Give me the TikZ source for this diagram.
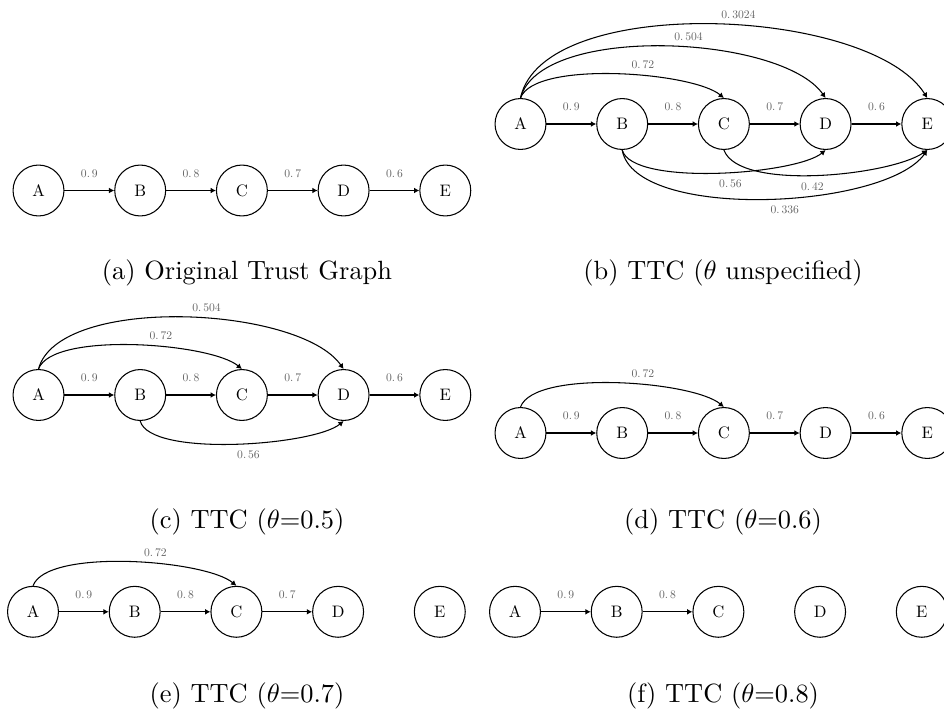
\documentclass[tikz,border=0pt]{standalone}
\usepackage{fontspec}
\usepackage{tikz}
\usetikzlibrary{arrows.meta}
\newfontfamily\tenrm{lmroman10-regular.otf}
\definecolor{cLabel}{RGB}{100,100,100}
\tikzset{
	vtx/.style   ={circle, draw=black, minimum size=19.3pt, inner sep=0pt, font=\tenrm\fontsize{6.3}{7}\selectfont},
	edge/.style  ={-{Latex[length=2pt,width=2.2pt]}},
	wlbl/.style  ={text=cLabel, inner sep=1pt, font=\tenrm\fontsize{4.4}{5}\selectfont},
	% sub-figure captions
	subcap/.style={font=\normalsize},
}

\begin{document}
\begin{tikzpicture}[x=0.379pt, y=0.379pt]
	\useasboundingbox (0,0) rectangle (944,-716);
	% (a) original graph
	\foreach \n [count=\i from 0] in {A,B,C,D,E} \node[vtx] (a\n) at (38.5+101.7*\i,-190.5) {\n};
	\foreach \s/\t/\w in {A/B/9,B/C/8,C/D/7,D/E/6} \draw[edge] (a\s) -- node[wlbl, above=3.8pt] {0.\,\w} (a\t);
	\node[subcap] (capa) at (247,-273) {(a) Original Trust Graph};
	% (b) theta unspecified
	\foreach \n [count=\i from 0] in {A,B,C,D,E} \node[vtx] (b\n) at (520.5+101.7*\i,-124) {\n};
	\foreach \s/\t/\w in {A/B/9,B/C/8,C/D/7,D/E/6} \draw[edge] (b\s) -- node[wlbl, above=3.8pt] {0.\,\w} (b\t);
	\draw[edge] (bA.north) to[out=70,in=140,looseness=0.51] node[wlbl, above=1.5pt, pos=0.6] {0.\,72} (bC.north);
	\draw[edge] (bA.north) to[out=75,in=125,looseness=0.65] node[wlbl, above=1.5pt, pos=0.56] {0.\,504} (bD.north);
	\draw[edge] (bA.north) to[out=78,in=122,looseness=0.68] node[wlbl, above=1.5pt, pos=0.55] {0.\,3024} (bE.north);
	\draw[edge] (bB.south) to[out=-75,in=-140,looseness=0.48] node[wlbl, below=1.5pt, pos=0.55] {0.\,56} (bD.south);
	\draw[edge] (bC.south) to[out=-70,in=-145,looseness=0.56] node[wlbl, below=1.5pt, pos=0.48] {0.\,42} (bE.south);
	\draw[edge] (bB.south) to[out=-80,in=-125,looseness=0.61] node[wlbl, below=1.5pt, pos=0.55] {0.\,336} (bE.south);
	\node[subcap] (capb) at (723,-273) {(b) TTC ($\theta$ unspecified)};
	% (c) theta=0.5
	\foreach \n [count=\i from 0] in {A,B,C,D,E} \node[vtx] (c\n) at (38.5+101.7*\i,-395) {\n};
	\foreach \s/\t/\w in {A/B/9,B/C/8,C/D/7,D/E/6} \draw[edge] (c\s) -- node[wlbl, above=3.8pt] {0.\,\w} (c\t);
	\draw[edge] (cA.north) to[out=70,in=140,looseness=0.51] node[wlbl, above=1.5pt, pos=0.6] {0.\,72} (cC.north);
	\draw[edge] (cA.north) to[out=75,in=125,looseness=0.65] node[wlbl, above=1.5pt, pos=0.56] {0.\,504} (cD.north);
	\draw[edge] (cB.south) to[out=-75,in=-140,looseness=0.48] node[wlbl, below=1.5pt, pos=0.55] {0.\,56} (cD.south);
	\node[subcap] (capc) at (247,-522) {(c) TTC ($\theta$=0.5)};
	% (d) theta=0.6
	\foreach \n [count=\i from 0] in {A,B,C,D,E} \node[vtx] (d\n) at (520.5+101.7*\i,-433) {\n};
	\foreach \s/\t/\w in {A/B/9,B/C/8,C/D/7,D/E/6} \draw[edge] (d\s) -- node[wlbl, above=3.8pt] {0.\,\w} (d\t);
	\draw[edge] (dA.north) to[out=70,in=140,looseness=0.51] node[wlbl, above=1.5pt, pos=0.6] {0.\,72} (dC.north);
	\node[subcap] (capd) at (723,-522) {(d) TTC ($\theta$=0.6)};
	% (e) theta=0.7
	\foreach \n [count=\i from 0] in {A,B,C,D,E} \node[vtx] (e\n) at (33+101.7*\i,-611.8) {\n};
	\foreach \s/\t/\w in {A/B/9,B/C/8,C/D/7} \draw[edge] (e\s) -- node[wlbl, above=3.8pt] {0.\,\w} (e\t);
	\draw[edge] (eA.north) to[out=70,in=140,looseness=0.51] node[wlbl, above=1.5pt, pos=0.6] {0.\,72} (eC.north);
	\node[subcap] (cape) at (247,-696) {(e) TTC ($\theta$=0.7)};
	% (f) theta=0.8
	\foreach \n [count=\i from 0] in {A,B,C,D,E} \node[vtx] (f\n) at (515+101.7*\i,-611.8) {\n};
	\foreach \s/\t/\w in {A/B/9,B/C/8} \draw[edge] (f\s) -- node[wlbl, above=3.8pt] {0.\,\w} (f\t);
	\node[subcap] (capf) at (723,-696) {(f) TTC ($\theta$=0.8)};
\end{tikzpicture}
\end{document}
